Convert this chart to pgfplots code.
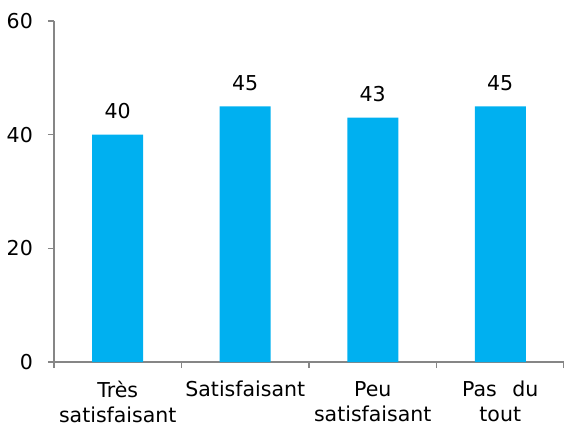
\documentclass[border=0pt]{standalone}
\usepackage{fontspec}
\setmainfont{DejaVu Sans}
\usepackage{pgfplots}
\pgfplotsset{compat=1.18}
\definecolor{barblue}{HTML}{00B0F0}
\definecolor{axgray}{HTML}{868686}
\begin{document}
\begin{tikzpicture}
\useasboundingbox (-54bp,-65bp) rectangle (510bp,362bp);
\begin{axis}[
  at={(0,0)}, anchor=south west,
  scale only axis,
  width=510bp, height=341bp,
  xmin=-0.5, xmax=3.5,
  ymin=0, ymax=60,
  axis x line=bottom, axis y line=left,
  axis line style={-, axgray, line width=1.2bp},
  every tick/.style={axgray, line width=1.2bp},
  xtick align=outside, ytick align=outside,
  ytick={0,20,40,60},
  major tick length=6bp,
  xtick={-0.5,0.5,1.5,2.5,3.5},
  x tick label as interval,
  xticklabels={Très\\satisfaisant, Satisfaisant\\\mbox{}, Peu\\satisfaisant, Pas\hspace{0.75em}du\\tout},
  xticklabel style={align=center, font=\fontsize{20.5bp}{25bp}\selectfont, anchor=north, inner sep=0pt, yshift=-13bp},
  yticklabel style={font=\fontsize{20.5bp}{25bp}\selectfont, anchor=east, inner sep=0pt, xshift=-15bp},
  /pgf/number format/assume math mode=true,
  nodes near coords,
  every node near coord/.append style={font=\fontsize{20.5bp}{25bp}\selectfont, anchor=base, inner sep=0pt, yshift=16bp, black},
  clip=false,
]
\addplot[ybar, bar width=0.4, fill=barblue, draw=none] coordinates {(0,40) (1,45) (2,43) (3,45)};
\end{axis}
\end{tikzpicture}
\end{document}
